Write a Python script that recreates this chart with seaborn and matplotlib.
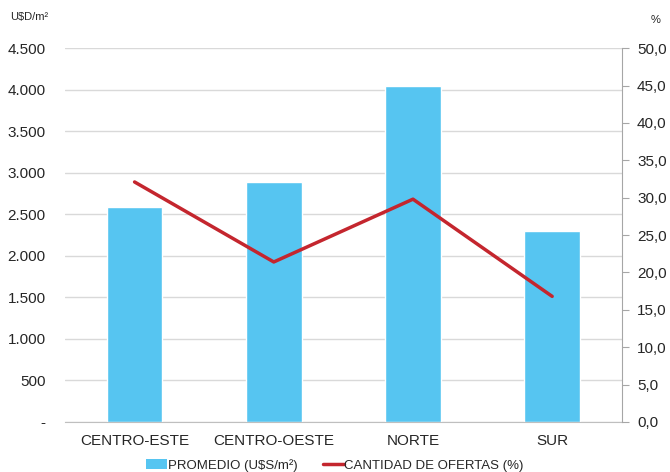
import matplotlib
matplotlib.use('Agg')
import matplotlib.pyplot as plt
import seaborn as sns
from matplotlib.patches import Patch
from matplotlib.lines import Line2D
from matplotlib.ticker import FixedLocator

# Datos
zonas = ['CENTRO-ESTE', 'CENTRO-OESTE', 'NORTE', 'SUR']
promedio = [2590, 2890, 4050, 2300]          # U$S/m²
ofertas = [32.1, 21.4, 29.8, 16.8]           # %

izq_ticks = [0, 500, 1000, 1500, 2000, 2500, 3000, 3500, 4000, 4500]
der_ticks = [0, 5, 10, 15, 20, 25, 30, 35, 40, 45, 50]

azul = '#56c5f1'
rojo = '#c4262e'
gris = '#a6a6a6'
texto = '#262626'

sns.set_style('white')
plt.rcParams['font.family'] = ['Liberation Sans', 'DejaVu Sans']

fig = plt.figure(figsize=(6.7, 4.72), dpi=100)
ax = fig.add_axes([0.097, 0.106, 0.831, 0.792])

sns.barplot(x=zonas, y=promedio, color=azul, width=0.4, saturation=1, ax=ax)
ax.set_ylim(0, 4500)
ax.set_xlim(-0.5, 3.5)
ax.set_yticks(izq_ticks)
ax.set_yticklabels(['-'] + [f'{v:,}'.replace(',', '.') for v in izq_ticks[1:]])
ax.grid(axis='y', color='#d9d9d9', linewidth=1)
ax.set_axisbelow(True)
ax.set_xlabel('')
ax.set_ylabel('')
for s in ['top', 'right', 'left']:
    ax.spines[s].set_visible(False)
ax.spines['bottom'].set_color('#bfbfbf')
ax.tick_params(axis='y', length=0, pad=14, labelsize=11, labelcolor=texto)
ax.tick_params(axis='x', which='major', length=0, pad=9, labelsize=11, labelcolor=texto)
ax.xaxis.set_minor_locator(FixedLocator([-0.5, 0.5, 1.5, 2.5, 3.5]))
ax.tick_params(axis='x', which='minor', length=4, color='#bfbfbf', width=1)

ax2 = ax.twinx()
sns.lineplot(x=[0, 1, 2, 3], y=ofertas, color=rojo, linewidth=2.5, sort=False, ax=ax2)
ax2.set_ylim(0, 50)
ax2.set_yticks(der_ticks)
ax2.set_yticklabels([f'{v:.1f}'.replace('.', ',') for v in der_ticks])
for s in ['top', 'left', 'bottom']:
    ax2.spines[s].set_visible(False)
ax2.spines['right'].set_color(gris)
ax2.tick_params(axis='y', length=5, color=gris, pad=6, labelsize=11, labelcolor=texto)
ax2.set_xlim(-0.5, 3.5)

# Unidades de los ejes
fig.text(0.015, 0.965, 'U$D/m²', fontsize=8, color=texto, ha='left', va='center')
fig.text(0.978, 0.958, '%', fontsize=8, color=texto, ha='center', va='center')

handles = [Patch(facecolor=azul, edgecolor='none'),
           Line2D([0], [0], color=rojo, linewidth=2.5)]
fig.legend(handles, ['PROMEDIO (U$S/m²)', 'CANTIDAD DE OFERTAS (%)'],
           loc='center', bbox_to_anchor=(0.5, 0.014), ncol=2, frameon=False,
           fontsize=9.5, handlelength=1.6, handleheight=0.8, handletextpad=0.05,
           columnspacing=1.9, labelcolor=texto)

fig.savefig('out.png', dpi=100)
